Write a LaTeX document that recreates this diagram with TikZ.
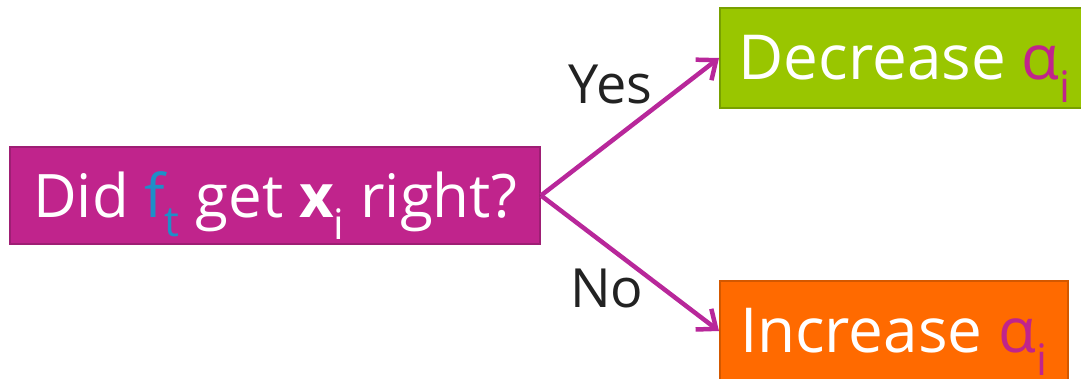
\documentclass[tikz,border=0pt]{standalone}
\usepackage{xcolor}
\usepackage{fontspec}
\setmainfont{Open Sans}
\usetikzlibrary{arrows.meta,positioning}

\definecolor{qmagenta}{HTML}{C0248C}
\definecolor{qmagentadark}{HTML}{9E1E74}
\definecolor{qgreen}{HTML}{99C600}
\definecolor{qgreendark}{HTML}{78A000}
\definecolor{qorange}{HTML}{FF6A00}
\definecolor{qorangedark}{HTML}{D35800}
\definecolor{qblue}{HTML}{1E8FC8}
\definecolor{qarrow}{HTML}{B8279A}
\definecolor{qlabel}{HTML}{222222}

\begin{document}
\begin{tikzpicture}[
    x=1pt, y=-1pt,
    box/.style={draw, line width=2pt, inner sep=0pt, text=white, minimum height=97pt,
        text height=43pt, text depth=0pt, font=\fontsize{60}{64}\selectfont},
    arrow/.style={-{Straight Barb[length=16pt, width=26pt, line width=4.5pt]}, line width=4.5pt, qarrow},
    answer/.style={text=qlabel, font=\fontsize{54}{58}\selectfont}
]
\useasboundingbox (0,0) rectangle (1081,378);
\begin{scope}
\clip (0,0) rectangle (1081,378);

\node[box, fill=qmagenta, draw=qmagentadark, minimum width=530pt] (question) at (275,195.5)
    {Did {\color{qblue}f\textsubscript{t}} get \textbf{x}\textsubscript{i} right?};
\node[box, fill=qgreen, draw=qgreendark, minimum width=370pt, minimum height=100pt] (decrease) at (905,58)
    {\fontsize{62}{64}\selectfont Decrease {\color{qmagenta}α\textsubscript{i}}};
\node[box, fill=qorange, draw=qorangedark, minimum width=348pt, minimum height=100pt] (increase) at (894,331)
    {\fontsize{62}{64}\selectfont Increase {\color{qmagenta}α\textsubscript{i}}};

\draw[arrow] (question.east) -- node[answer, pos=0.39, above=32pt]{Yes} (decrease.west);
\draw[arrow] (question.east) -- node[answer, pos=0.37, below=18pt]{No} (increase.west);
\end{scope}
\end{tikzpicture}
\end{document}
